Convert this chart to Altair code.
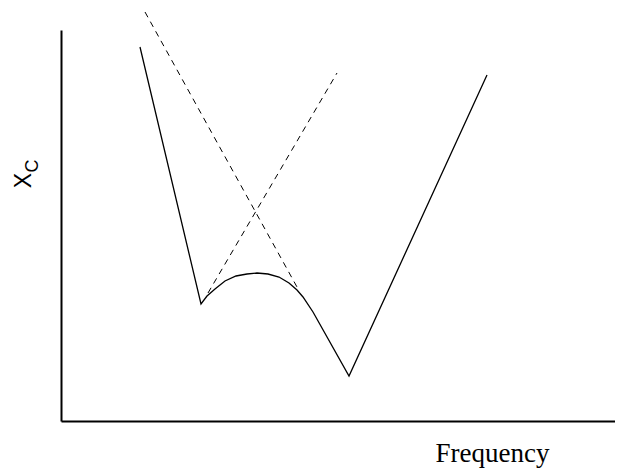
import altair as alt
import pandas as pd

# Solid reactance curve (frequency, X_C)
solid_f = [79, 140, 146, 154, 164, 175, 186, 196, 207, 218, 228, 236, 242, 252, 288, 426]
solid_x = [374, 117, 125, 132, 140, 145, 147, 148, 147, 144, 138, 131, 124, 109, 45, 346]

# Dashed asymptote lines
dash_a_f = [84, 236]
dash_a_x = [409, 134]
dash_b_f = [147, 276]
dash_b_x = [128, 348]

solid = pd.DataFrame({"f": solid_f, "x": solid_x, "o": list(range(len(solid_f)))})
dashed = pd.DataFrame({
    "f": dash_a_f + dash_b_f,
    "x": dash_a_x + dash_b_x,
    "seg": ["a", "a", "b", "b"],
    "o": [0, 1, 0, 1],
})

xs = alt.Scale(domain=[0, 554], nice=False, zero=False)
ys = alt.Scale(domain=[0, 391], nice=False, zero=False)

x_axis = alt.Axis(
    title="Frequency", ticks=False, labels=False, grid=False,
    domainColor="black", domainWidth=2,
    titleFont="Liberation Serif", titleFontSize=27, titleFontWeight="normal",
    titleColor="black", titleX=431, titleY=40, titleAlign="center",
    titleBaseline="alphabetic",
)
y_axis = alt.Axis(
    title="X", ticks=False, labels=False, grid=False,
    domainColor="black", domainWidth=2,
    titleFont="Liberation Sans", titleFontSize=23, titleFontWeight="normal",
    titleColor="black", titleAngle=270, titleX=-31, titleY=150,
    titleAlign="center", titleBaseline="alphabetic",
)

base_solid = alt.Chart(solid).mark_line(color="black", strokeWidth=1.3).encode(
    x=alt.X("f:Q", scale=xs, axis=x_axis),
    y=alt.Y("x:Q", scale=ys, axis=y_axis),
    order="o:Q",
)

dash_layer = alt.Chart(dashed).mark_line(
    color="black", strokeWidth=1, strokeDash=[6, 5]
).encode(
    x=alt.X("f:Q", scale=xs),
    y=alt.Y("x:Q", scale=ys),
    detail="seg:N",
    order="o:Q",
)

sub = alt.Chart(pd.DataFrame({"t": ["C"]})).mark_text(
    font="Liberation Sans", fontSize=18, color="black", angle=270,
    align="center", baseline="alphabetic",
).encode(x=alt.value(-23), y=alt.value(136), text="t:N")

chart = alt.layer(base_solid, dash_layer, sub).properties(
    width=554, height=391,
    autosize=alt.AutoSizeParams(type="none"),
    padding={"left": 53, "top": 22, "right": 0, "bottom": 48},
).configure_view(stroke=None)

chart.save("out.html", embed_options={"renderer": "svg", "actions": False})
